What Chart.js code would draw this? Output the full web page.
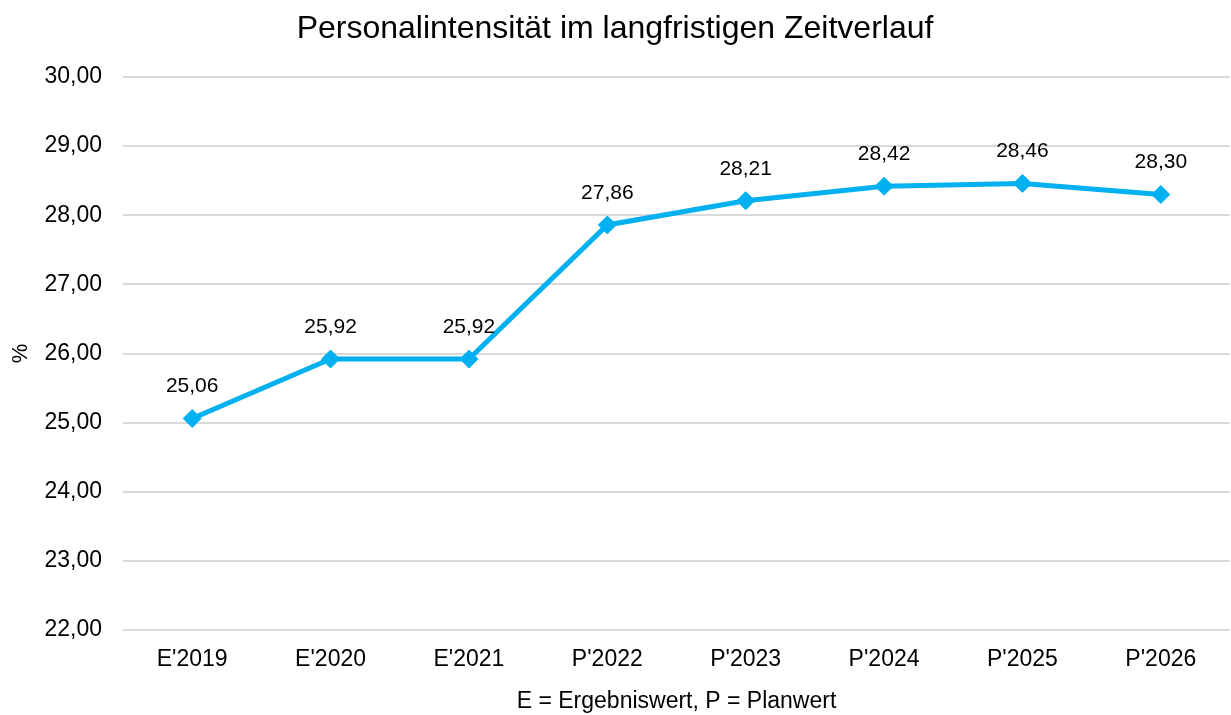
<!DOCTYPE html>
<html>
<head>
<meta charset="utf-8">
<script src="https://cdn.jsdelivr.net/npm/chart.js@4/dist/chart.umd.min.js"></script>
<style>
  html, body { margin: 0; padding: 0; background: #fff; }
  canvas { display: block; }
</style>
</head>
<body>
<canvas id="chart" width="1231" height="715"></canvas>
<script>
// Personalintensität, E = Ergebniswert, P = Planwert
const periods = ["E'2019", "E'2020", "E'2021", "P'2022", "P'2023", "P'2024", "P'2025", "P'2026"];
const intensity = [25.06, 25.92, 25.92, 27.86, 28.21, 28.42, 28.46, 28.30];
const yTicks = [22, 23, 24, 25, 26, 27, 28, 29, 30];

const fontFamily = '"Liberation Sans", Arial, sans-serif';
const fmt = v => v.toFixed(2).replace('.', ',');

// simple value labels above each point
const pointLabels = {
  id: 'pointLabels',
  afterDatasetsDraw(chart) {
    const ctx = chart.ctx;
    const meta = chart.getDatasetMeta(0);
    ctx.save();
    ctx.font = '21px ' + fontFamily;
    ctx.fillStyle = '#000';
    ctx.textAlign = 'center';
    ctx.textBaseline = 'middle';
    meta.data.forEach((pt, i) => {
      ctx.fillText(fmt(intensity[i]), pt.x, pt.y - 32);
    });
    ctx.restore();
  }
};

new Chart(document.getElementById('chart'), {
  type: 'line',
  data: {
    labels: periods,
    datasets: [{
      data: intensity,
      borderColor: '#00b0f0',
      backgroundColor: '#00b0f0',
      borderWidth: 5,
      pointStyle: 'rectRot',
      pointRadius: 9,
      pointHoverRadius: 9,
      pointBorderWidth: 1,
      tension: 0
    }]
  },
  options: {
    responsive: false,
    animation: false,
    layout: { autoPadding: false, padding: { left: 0, right: 1, top: 0, bottom: 0 } },
    plugins: {
      legend: { display: false },
      tooltip: { enabled: false },
      title: {
        display: true,
        text: 'Personalintensität im langfristigen Zeitverlauf',
        color: '#000',
        font: { family: fontFamily, size: 32, weight: 'normal' },
        padding: { top: 10, bottom: 28.6 }
      }
    },
    scales: {
      x: {
        offset: true,
        grid: { display: false, drawTicks: false },
        border: { display: false },
        afterFit(axis) {
          axis.height = 85;
          axis.paddingLeft = 0;
          axis.paddingRight = 0;
        },
        ticks: {
          color: '#000',
          padding: 16,
          font: { family: fontFamily, size: 23 }
        },
        title: {
          display: true,
          text: 'E = Ergebniswert, P = Planwert',
          color: '#000',
          font: { family: fontFamily, size: 23 },
          padding: { top: 13, bottom: 0 }
        }
      },
      y: {
        min: 22,
        max: 30,
        afterBuildTicks(axis) { axis.ticks = yTicks.map(v => ({ value: v })); },
        afterFit(axis) { axis.width = 123; },
        grid: { color: '#d9d9d9', lineWidth: 2, drawTicks: false },
        border: { display: false },
        ticks: {
          color: '#000',
          padding: 21,
          callback: v => fmt(v),
          font: { family: fontFamily, size: 23 }
        },
        title: {
          display: true,
          text: '%',
          color: '#000',
          font: { family: fontFamily, size: 22 },
          padding: { top: 8, bottom: 5 }
        }
      }
    }
  },
  plugins: [pointLabels]
});
</script>
</body>
</html>
